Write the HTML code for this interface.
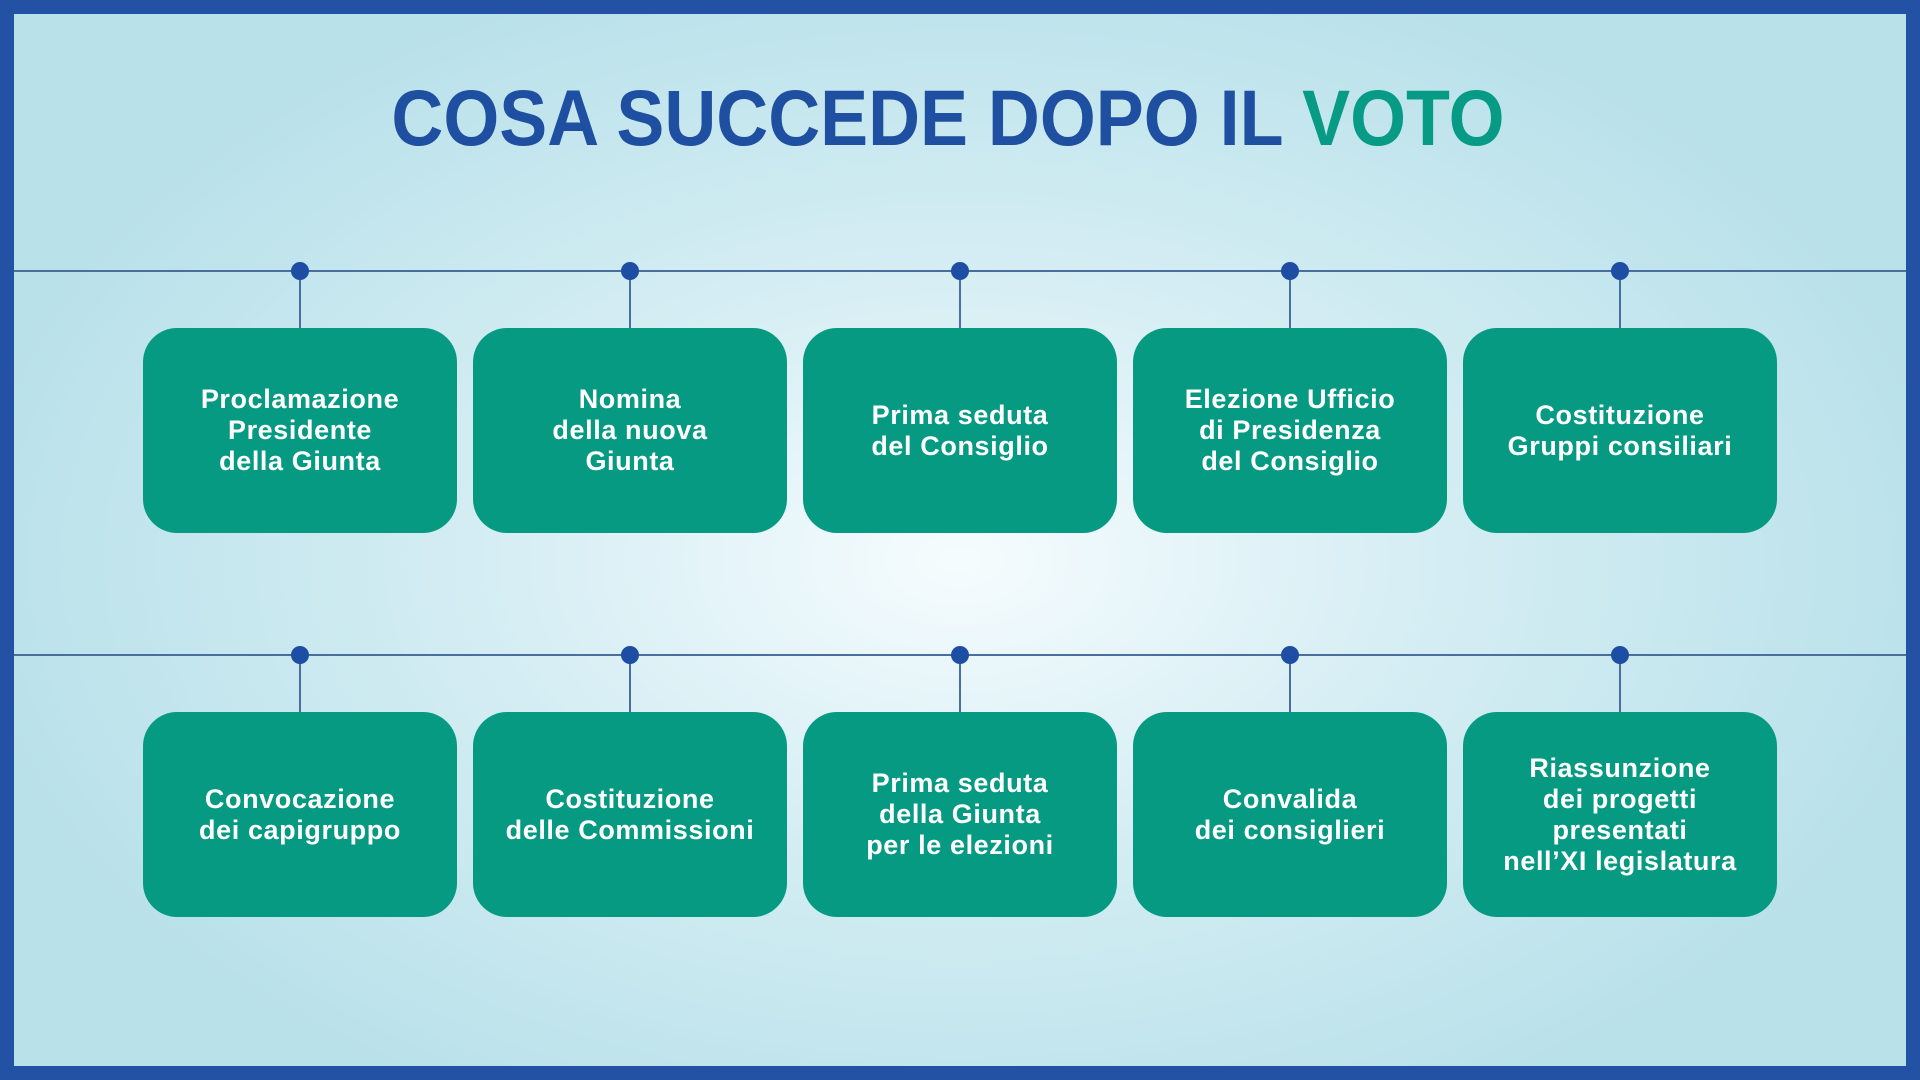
<!DOCTYPE html>
<html><head><meta charset="utf-8"><style>
html,body{margin:0;padding:0}
body{width:1920px;height:1080px;position:relative;overflow:hidden;font-family:"Liberation Sans",sans-serif;
background:radial-gradient(ellipse 1000px 620px at 960px 560px,#f6fcfe 0%,#d6eef4 45%,#b9e1ea 100%);}
.frame{position:absolute;left:0;top:0;width:1920px;height:1080px;box-sizing:border-box;border:14px solid #2352a5;}
h1{position:absolute;left:-12px;width:1920px;top:72px;margin:0;text-align:center;font-size:79px;font-weight:bold;color:#1f4fa0;letter-spacing:0px;transform:scaleX(0.91);transform-origin:960px 0;}
h1 span{color:#079a85}
.line{position:absolute;left:14px;width:1892px;height:2px;background:#4a6f9e}
.dot{position:absolute;width:18px;height:18px;border-radius:50%;background:#1d4ea3}
.stem{position:absolute;width:2px;background:#4a6f9e}
.box{position:absolute;width:314px;height:205px;border-radius:34px;background:#069a82;color:#fff;font-weight:bold;font-size:27px;letter-spacing:0.6px;line-height:31px;text-align:center;display:flex;align-items:center;justify-content:center}
</style></head><body>
<h1>COSA SUCCEDE DOPO IL <span>VOTO</span></h1>
<div class="line" style="top:270px"></div>
<div class="line" style="top:654px"></div>

<div class="stem" style="left:299px;top:271px;height:57px"></div>
<div class="stem" style="left:629px;top:271px;height:57px"></div>
<div class="stem" style="left:959px;top:271px;height:57px"></div>
<div class="stem" style="left:1289px;top:271px;height:57px"></div>
<div class="stem" style="left:1619px;top:271px;height:57px"></div>
<div class="stem" style="left:299px;top:655px;height:57px"></div>
<div class="stem" style="left:629px;top:655px;height:57px"></div>
<div class="stem" style="left:959px;top:655px;height:57px"></div>
<div class="stem" style="left:1289px;top:655px;height:57px"></div>
<div class="stem" style="left:1619px;top:655px;height:57px"></div>

<div class="dot" style="left:291px;top:262px"></div>
<div class="dot" style="left:621px;top:262px"></div>
<div class="dot" style="left:951px;top:262px"></div>
<div class="dot" style="left:1281px;top:262px"></div>
<div class="dot" style="left:1611px;top:262px"></div>
<div class="dot" style="left:291px;top:646px"></div>
<div class="dot" style="left:621px;top:646px"></div>
<div class="dot" style="left:951px;top:646px"></div>
<div class="dot" style="left:1281px;top:646px"></div>
<div class="dot" style="left:1611px;top:646px"></div>

<div class="box" style="left:143px;top:328px">Proclamazione<br>Presidente<br>della Giunta</div>
<div class="box" style="left:473px;top:328px">Nomina<br>della nuova<br>Giunta</div>
<div class="box" style="left:803px;top:328px">Prima seduta<br>del Consiglio</div>
<div class="box" style="left:1133px;top:328px">Elezione Ufficio<br>di Presidenza<br>del Consiglio</div>
<div class="box" style="left:1463px;top:328px">Costituzione<br>Gruppi consiliari</div>

<div class="box" style="left:143px;top:712px">Convocazione<br>dei capigruppo</div>
<div class="box" style="left:473px;top:712px">Costituzione<br>delle Commissioni</div>
<div class="box" style="left:803px;top:712px">Prima seduta<br>della Giunta<br>per le elezioni</div>
<div class="box" style="left:1133px;top:712px">Convalida<br>dei consiglieri</div>
<div class="box" style="left:1463px;top:712px">Riassunzione<br>dei progetti<br>presentati<br>nell’XI legislatura</div>
<div class="frame"></div>
</body></html>
